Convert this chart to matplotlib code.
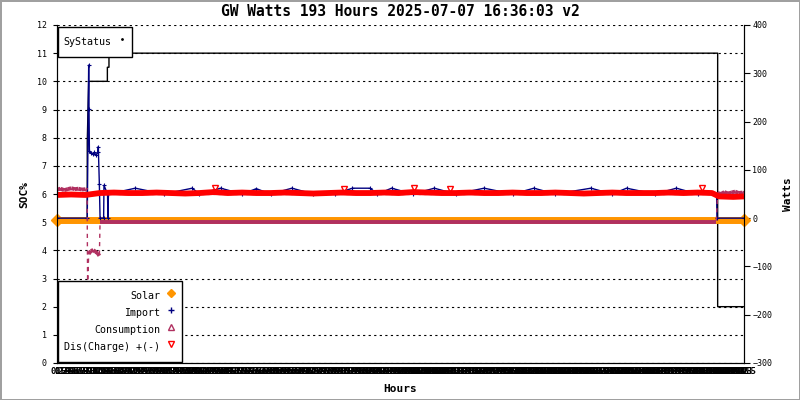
import numpy as np
import matplotlib
matplotlib.use('Agg')
import matplotlib.pyplot as plt
from matplotlib.lines import Line2D

plt.rcParams['font.family'] = ['DejaVu Sans Mono', 'DejaVu Sans']

title = "GW Watts 193 Hours 2025-07-07 16:36:03 v2"

# SyStatus (left axis)
sys_hours = [8.5, 8.5, 8.9, 14.15, 14.15, 14.6, 14.6, 185.6, 185.6, 193]
sys_status = [5.2, 7.85, 10, 10, 10.5, 10.5, 11, 11, 2, 2]

# Watts series (right axis)
solar_hours = [0, 193]
solar_watts = [-3, -3]

imp_hours = [0, 8.5, 8.9, 9.0, 9.1, 9.5, 10.0, 10.5, 11.0, 11.5,
             11.6, 11.9, 12.1, 13.1, 13.2, 14.2, 14.3, 14.45, 22, 30,
             38, 40, 46, 52, 56, 60, 66, 72, 78, 83,
             88, 90, 94, 100, 106, 112, 120, 128, 134, 140,
             150, 156, 160, 168, 174, 180, 185.3, 185.4, 193]
imp_watts = [0, 0, 317, 225, 140, 135, 132, 136, 130, 138,
             148, 70, 0, 0, 68, 50, 0, 50, 62, 50,
             62, 50, 62, 50, 61, 50, 62, 50, 50, 62,
             62, 50, 62, 50, 62, 50, 62, 50, 62, 50,
             62, 50, 62, 50, 62, 50, 50, 0, 0]

cons_hours = [0, 1, 2, 3, 4, 5, 6, 7, 8, 8.45, 8.6, 8.9, 9.5, 10.2,
              10.8, 11.4, 11.9, 12.1, 185.2, 185.6, 186.5, 187.5,
              188.5, 189.5, 190.5, 191.5, 192.5, 193]
cons_watts = [59, 61, 58, 60, 62, 60, 61, 59, 60, 58, -140, -74, -68, -66,
              -70, -72, -78, -7, -7, 52, 50, 54, 51, 53, 55, 52, 53, 52]

dis_hours = [0, 4, 8, 12, 16, 20, 24, 28, 32, 36, 40, 44, 48, 52, 56, 60,
             64, 68, 72, 76, 80, 84, 88, 92, 96, 100, 104, 108, 112, 116,
             120, 124, 128, 132, 136, 140, 144, 148, 152, 156, 160, 164,
             168, 172, 176, 180, 184, 186, 190, 193]
dis_watts = [48, 49, 48, 52, 53, 52, 52, 53, 52, 51,
             52, 54, 52, 53, 52, 52, 53, 52, 51, 52,
             53, 52, 52, 53, 52, 54, 53, 52, 52, 53,
             52, 52, 53, 52, 52, 53, 52, 51, 52, 53,
             52, 52, 52, 53, 52, 53, 52, 45, 44, 45]
dis_peak_hours = [44.4, 80.7, 100.4, 110.3, 181.2]
dis_peak_watts = [62, 61, 62, 60, 63]

soc_ticks = list(range(0, 13))
watt_ticks = list(range(-300, 401, 100))
hour_ticks = np.arange(0, 193.01, 0.5)
hour_labels = [f"{h:g}" for h in hour_ticks]

c_solar = '#ff9500'
c_import = '#000080'
c_cons = '#b03060'
c_dis = '#ff0000'

fig = plt.figure(figsize=(8, 4), dpi=100)
fig.patch.set_edgecolor('#a0a0a0')
fig.patch.set_linewidth(2)
ax = fig.add_axes([57 / 800, 37 / 400, 687 / 800, 338 / 400])
ax2 = ax.twinx()

ax.plot(sys_hours, sys_status, color='black', lw=1)

ax2.plot(solar_hours, solar_watts, color=c_solar, lw=5, marker='D',
         markersize=6, clip_on=False)
ax2.plot(imp_hours, imp_watts, color=c_import, lw=1, marker='+',
         markersize=3.5, markeredgewidth=0.8)

# consumption: thin dashed for jumps, thick for the flat runs
ax2.plot(cons_hours, cons_watts, color=c_cons, lw=1, ls=(0, (3, 3)))
for i in range(len(cons_hours) - 1):
    if abs(cons_watts[i + 1] - cons_watts[i]) < 20:
        ax2.plot(cons_hours[i:i + 2], cons_watts[i:i + 2], color=c_cons,
                 lw=2.8, solid_capstyle='butt')

ax2.plot(dis_hours, dis_watts, color=c_dis, lw=4.2, solid_capstyle='butt')
ax2.plot(dis_peak_hours, dis_peak_watts, ls='none', marker='v', mfc='none',
         mec=c_dis, markersize=4, mew=1)

ax.set_xlim(0, 193)
ax.set_ylim(0, 12)
ax2.set_ylim(-300, 400)

ax.set_yticks(soc_ticks)
ax2.set_yticks(watt_ticks)
ax.set_xticks(hour_ticks)
ax.set_xticklabels(hour_labels, fontweight='bold')

ax.yaxis.grid(True, color='black', lw=0.8, ls=(0, (2, 3)))
for a in (ax, ax2):
    a.spines['top'].set_visible(False)
ax.tick_params(axis='y', direction='out', length=3, labelsize=6, pad=4.5)
ax2.tick_params(axis='y', direction='out', length=4, labelsize=6, pad=2)
ax.tick_params(axis='x', length=0, labelsize=6.5, pad=3)

ax.set_ylabel('SOC%', fontsize=8, fontweight='bold', labelpad=5)
ax2.set_ylabel('Watts', fontsize=8, fontweight='bold', labelpad=8)
ax.set_xlabel('Hours', fontsize=8, fontweight='bold', labelpad=6)
fig.text(0.5, 1 - 12 / 400, title, ha='center', va='center',
         fontsize=10.5, fontweight='bold')

keys = [Line2D([], [], color=c_solar, marker='D', ls='none', markersize=4),
        Line2D([], [], color=c_import, marker='+', ls='none', markersize=4),
        Line2D([], [], color=c_cons, marker='^', mfc='none', ls='none', markersize=4),
        Line2D([], [], color=c_dis, marker='v', mfc='none', ls='none', markersize=4)]
names = ['Solar', 'Import', 'Consumption', 'Dis(Charge) +(-)']
leg = ax2.legend(keys, names, loc='lower left',
                 bbox_to_anchor=(58 / 800, 38 / 400), bbox_transform=fig.transFigure,
                 markerfirst=False, fancybox=False, edgecolor='black',
                 framealpha=1, fontsize=7.2, borderaxespad=0, handlelength=1,
                 handleheight=2.24, handletextpad=0.5, labelspacing=0,
                 borderpad=0.65)
leg.get_frame().set_linewidth(1)
ax2.add_artist(leg)

leg2 = ax2.legend([Line2D([], [], color='black', marker='.', ls='none', markersize=2)],
                  ['SyStatus'], loc='upper left',
                  bbox_to_anchor=(58 / 800, 373 / 400), bbox_transform=fig.transFigure,
                  markerfirst=False, fancybox=False, edgecolor='black',
                  framealpha=1, fontsize=7.2, borderaxespad=0, handlelength=1,
                  handleheight=2.7, handletextpad=0.6, borderpad=0.5)
leg2.get_frame().set_linewidth(1)

plt.savefig('out.png', dpi=100)
